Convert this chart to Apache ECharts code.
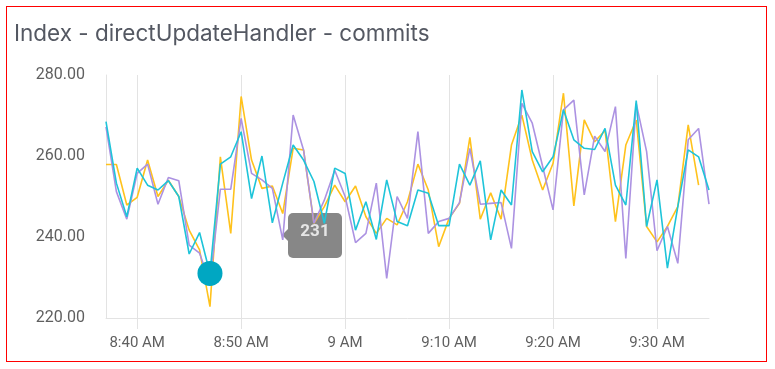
<!DOCTYPE html>
<html>
<head>
<meta charset="utf-8">
<script src="https://cdn.jsdelivr.net/npm/echarts@6/dist/echarts.min.js"></script>
<style>
html,body{margin:0;padding:0;background:#fff;}
#frame{position:absolute;left:6px;top:6px;width:761px;height:356px;border:1px solid #ff0000;box-sizing:border-box;}
#chart{position:absolute;left:0;top:0;width:775px;height:369px;}
</style>
</head>
<body>
<div id="frame"></div>
<div id="chart"></div>
<script>
const titleText = 'Index - directUpdateHandler - commits';
const categories = ['8:37','8:38','8:39','8:40','8:41','8:42','8:43','8:44','8:45','8:46','8:47','8:48','8:49','8:50','8:51','8:52','8:53','8:54','8:55','8:56','8:57','8:58','8:59','9:00','9:01','9:02','9:03','9:04','9:05','9:06','9:07','9:08','9:09','9:10','9:11','9:12','9:13','9:14','9:15','9:16','9:17','9:18','9:19','9:20','9:21','9:22','9:23','9:24','9:25','9:26','9:27','9:28','9:29','9:30','9:31','9:32','9:33','9:34','9:35'];
const tickLabels = {'8:40':'8:40 AM','8:50':'8:50 AM','9:00':'9 AM','9:10':'9:10 AM','9:20':'9:20 AM','9:30':'9:30 AM'};
const yTicks = [220, 240, 260, 280];
const yellowValues = [257.9,257.9,247.9,249.8,259.0,250.0,254.0,250.0,241.7,236.8,222.8,259.8,240.9,274.7,259.0,252.0,252.6,245.8,261.9,261.5,243.4,247.5,252.8,248.7,252.6,245.0,240.9,244.6,243.0,248.7,258.0,251.6,237.6,244.6,248.3,264.6,244.4,250.9,244.4,262.7,270.1,259.0,251.6,258.2,275.5,247.7,268.9,263.5,266.3,243.8,262.7,268.9,242.6,238.8,242.6,247.5,267.7,252.8,null];
const purpleValues = [267.2,251.2,244.4,255.7,258.0,248.1,254.7,253.9,238.0,236.0,228.7,251.8,251.8,269.3,255.7,254.1,252.0,239.3,270.1,261.5,243.4,249.1,256.5,250.0,238.6,240.9,253.3,229.8,250.0,244.6,266.0,240.9,243.8,244.6,248.5,261.9,248.1,248.3,248.5,237.2,273.0,268.1,257.4,246.7,271.4,273.8,250.4,264.9,261.1,272.2,234.7,273.0,261.1,236.6,242.6,233.5,264.0,266.8,248.1];
const cyanValues = [268.5,253.3,245.0,257.0,252.8,251.6,253.9,250.0,235.8,241.1,231.0,258.0,259.8,266.0,249.5,260.0,243.5,253.3,262.7,259.0,253.7,243.4,257.0,255.7,241.7,248.7,239.4,254.1,243.8,242.8,251.6,250.8,242.8,242.8,258.0,252.8,258.8,239.3,251.6,247.9,276.3,261.1,256.1,259.8,271.4,264.0,261.9,261.6,266.8,252.8,247.9,273.7,242.6,254.1,232.3,247.5,261.5,259.8,251.6];
const highlightIndex = 10;
const tooltipText = '231';

const isTick = (idx) => tickLabels.hasOwnProperty(categories[idx]);
const gridColor = '#e3e3e3';
const labelColor = '#5f5f5f';

const chart = echarts.init(document.getElementById('chart'), null, {renderer: 'canvas'});
const lineSeries = (name, data, color) => ({
  name, type: 'line', data, symbol: 'none', showSymbol: false,
  lineStyle: {color, width: 1.6}, itemStyle: {color}, animation: false, z: 2
});
const cyan = lineSeries('cyan', cyanValues, '#1ec4d9');
cyan.markPoint = {
  symbol: 'circle', symbolSize: 25, silent: true, animation: false,
  itemStyle: {color: '#00a7c2'}, label: {show: false},
  data: [{coord: [categories[highlightIndex], cyanValues[highlightIndex]]}]
};
chart.setOption({
  animation: false,
  title: {text: titleText, left: 9, top: 18, textStyle: {fontFamily: 'Inter', fontSize: 22.5, fontWeight: 'normal', color: '#545862'}},
  grid: {left: 106, right: 66, top: 75, bottom: 51},
  xAxis: {
    type: 'category', data: categories, boundaryGap: false,
    axisLine: {show: true, lineStyle: {color: gridColor, width: 1}},
    axisTick: {show: true, length: 11, interval: (i) => isTick(i), lineStyle: {color: gridColor}},
    axisLabel: {interval: (i) => isTick(i), formatter: (v) => tickLabels[v] || '', color: labelColor, fontFamily: 'Roboto', fontSize: 15, margin: 18},
    splitLine: {show: true, interval: (i) => isTick(i), lineStyle: {color: gridColor, width: 1}}
  },
  yAxis: {
    type: 'value', min: yTicks[0], max: yTicks[yTicks.length - 1], interval: 20,
    axisLine: {show: true, lineStyle: {color: gridColor}},
    axisTick: {show: false},
    splitLine: {show: false},
    axisLabel: {formatter: (v) => v.toFixed(2), color: labelColor, fontFamily: 'Roboto', fontSize: 16, margin: 21}
  },
  series: [
    lineSeries('yellow', yellowValues, '#ffc21c'),
    lineSeries('purple', purpleValues, '#ac92e2'),
    cyan
  ],
  graphic: [{
    type: 'group', left: 282, top: 213, z: 100,
    children: [
      {type: 'polygon', shape: {points: [[0, 22], [7, 15], [7, 29]]}, style: {fill: '#878787'}},
      {type: 'rect', shape: {x: 6, y: 0, width: 54, height: 45, r: 5}, style: {fill: '#878787'}},
      {type: 'text', x: 33, y: 19, style: {text: tooltipText, fill: '#e6e6e6', font: 'bold 17px Roboto', align: 'center', verticalAlign: 'middle'}}
    ]
  }]
});
</script>
</body>
</html>
